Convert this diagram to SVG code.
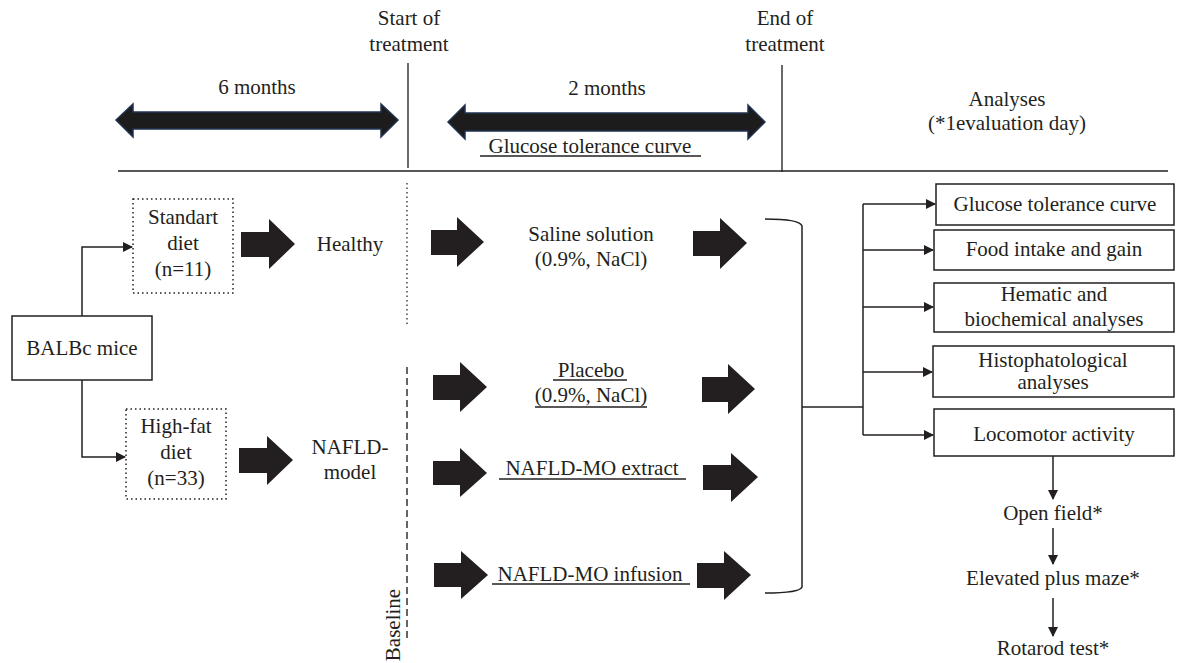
<svg xmlns="http://www.w3.org/2000/svg" width="1178" height="663" viewBox="0 0 1178 663">
<defs>
<style>
text{font-family:"Liberation Serif","Times New Roman",serif;font-size:21px;fill:#231f20;text-anchor:middle}
.ln{stroke:#231f20;stroke-width:1.5;fill:none}
.gl{stroke:#444;stroke-width:1.6;fill:none}
.box{fill:#fff;stroke:#231f20;stroke-width:1.5}
.dot{fill:#fff;stroke:#231f20;stroke-width:1.5;stroke-dasharray:1.5 3}
.blk{fill:#231f20}
.dbl{fill:#1c1c1c;stroke:#1f3350;stroke-width:1.5}
.ul{stroke:#231f20;stroke-width:1.5}
</style>
<marker id="ah" markerWidth="10" markerHeight="10" refX="9" refY="5" orient="auto" markerUnits="userSpaceOnUse">
<path d="M0,0 L10,5 L0,10 z" fill="#231f20"/>
</marker>
</defs>
<rect width="1178" height="663" fill="#fff"/>

<g id="timeline">
<text x="409" y="25">Start of</text>
<text x="409" y="51">treatment</text>
<text x="785" y="25">End of</text>
<text x="785" y="51">treatment</text>
<line class="gl" x1="408" y1="63" x2="408" y2="168"/>
<line class="gl" x1="782" y1="65" x2="782" y2="172"/>
<line class="ln" x1="118" y1="171" x2="1168" y2="171"/>
<text x="257" y="94">6 months</text>
<text x="607" y="95">2 months</text>
<polygon class="dbl" points="116,120 133,104 133,112 381,112 381,104 398,120 381,137 381,129 133,129 133,137"/>
<polygon class="dbl" points="448,122 465,105 465,113 748,113 748,105 765,122 748,139 748,131 465,131 465,139"/>
<text x="590" y="153">Glucose tolerance curve</text>
<line class="ul" x1="480" y1="156" x2="701" y2="156"/>
<text x="1007" y="106">Analyses</text>
<text x="1007" y="130">(*1evaluation day)</text>
</g>

<g id="baseline">
<line x1="407" y1="183" x2="407" y2="326" stroke="#444" stroke-width="1.5" stroke-dasharray="1.5 3"/>
<line x1="407" y1="367" x2="407" y2="642" stroke="#333" stroke-width="1.5" stroke-dasharray="7 4"/>
<text transform="translate(400,625) rotate(-90)">Baseline</text>
</g>

<g id="connectors">
<polyline class="ln" points="82,316 82,247 132,247" marker-end="url(#ah)"/>
<polyline class="ln" points="82,380 82,457 125,457" marker-end="url(#ah)"/>
<path class="ln" d="M765,219 Q800,219 802,226 L802,587 Q800,593 765,593"/>
<line class="ln" x1="802" y1="407" x2="863" y2="407"/>
<line class="ln" x1="863" y1="204" x2="863" y2="435"/>
<line class="ln" x1="863" y1="204" x2="935" y2="204" marker-end="url(#ah)"/>
<line class="ln" x1="863" y1="250" x2="933" y2="250" marker-end="url(#ah)"/>
<line class="ln" x1="863" y1="307" x2="933" y2="307" marker-end="url(#ah)"/>
<line class="ln" x1="863" y1="372" x2="932" y2="372" marker-end="url(#ah)"/>
<line class="ln" x1="863" y1="435" x2="933" y2="435" marker-end="url(#ah)"/>
<line class="ln" x1="1053" y1="456" x2="1053" y2="499" marker-end="url(#ah)"/>
<line class="ln" x1="1053" y1="528" x2="1053" y2="564" marker-end="url(#ah)"/>
<line class="ln" x1="1053" y1="598" x2="1053" y2="636" marker-end="url(#ah)"/>
</g>

<g id="block-arrows">
<polygon class="blk" points="241,232 269,232 269,219 295,244 269,269 269,257 241,257"/>
<polygon class="blk" points="239,448 267,448 267,436 293,460 267,485 267,473 239,473"/>
<polygon class="blk" points="431,230 457,230 457,217 484,242 457,267 457,255 431,255"/>
<polygon class="blk" points="693,231 720,231 720,218 747,243 720,269 720,256 693,256"/>
<polygon class="blk" points="433,375 460,375 460,362 487,387 460,412 460,400 433,400"/>
<polygon class="blk" points="702,377 728,377 728,364 755,389 728,414 728,402 702,402"/>
<polygon class="blk" points="433,461 460,461 460,448 487,473 460,497 460,485 433,485"/>
<polygon class="blk" points="703,465 731,465 731,453 758,477 731,502 731,490 703,490"/>
<polygon class="blk" points="434,563 461,563 461,551 488,575 461,599 461,587 434,587"/>
<polygon class="blk" points="697,563 724,563 724,551 751,575 724,600 724,588 697,588"/>
</g>

<g id="balbc">
<rect class="box" x="12" y="316" width="140" height="64"/>
<text x="82" y="355">BALBc mice</text>
</g>
<g id="standart">
<rect class="dot" x="133" y="199" width="100" height="94"/>
<text x="183" y="224">Standart</text>
<text x="183" y="250">diet</text>
<text x="183" y="276">(n=11)</text>
</g>
<g id="highfat">
<rect class="dot" x="126" y="409" width="100" height="90"/>
<text x="176" y="433">High-fat</text>
<text x="176" y="459">diet</text>
<text x="176" y="485">(n=33)</text>
</g>
<g id="healthy"><text x="350" y="251">Healthy</text></g>
<g id="nafld"><text x="350" y="454">NAFLD-</text><text x="350" y="479">model</text></g>

<g id="saline">
<text x="591" y="241">Saline solution</text>
<text x="591" y="266">(0.9%, NaCl)</text>
</g>
<g id="placebo">
<text x="591" y="377">Placebo</text>
<line class="ul" x1="553" y1="380" x2="627" y2="380"/>
<text x="591" y="402">(0.9%, NaCl)</text>
<line class="ul" x1="535" y1="407" x2="647" y2="407"/>
</g>
<g id="extract">
<text x="592" y="475">NAFLD-MO extract</text>
<line class="ul" x1="499" y1="479" x2="686" y2="479"/>
</g>
<g id="infusion">
<text x="590" y="581">NAFLD-MO infusion</text>
<line class="ul" x1="492" y1="584" x2="690" y2="584"/>
</g>

<g id="gtc"><rect class="box" x="936" y="184" width="238" height="41"/><text x="1055" y="211">Glucose tolerance curve</text></g>
<g id="food"><rect class="box" x="934" y="230" width="240" height="40"/><text x="1054" y="256">Food intake and gain</text></g>
<g id="hematic"><rect class="box" x="934" y="283" width="240" height="49"/><text x="1054" y="301">Hematic and</text><text x="1054" y="326">biochemical analyses</text></g>
<g id="histo"><rect class="box" x="933" y="346" width="241" height="51"/><text x="1053" y="367">Histophatological</text><text x="1053" y="389">analyses</text></g>
<g id="locomotor"><rect class="box" x="934" y="409" width="240" height="47"/><text x="1054" y="441">Locomotor activity</text></g>
<g id="openfield"><text x="1053" y="520">Open field*</text></g>
<g id="epm"><text x="1053" y="585">Elevated plus maze*</text></g>
<g id="rotarod"><text x="1053" y="655">Rotarod test*</text></g>
</svg>
